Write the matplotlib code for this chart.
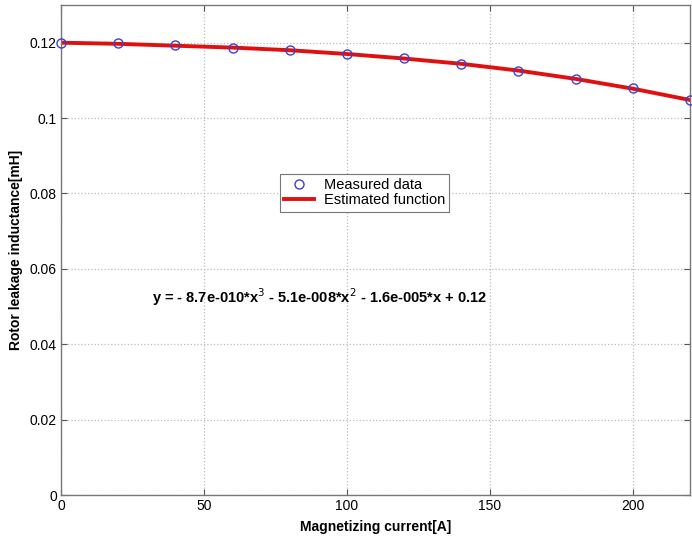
import matplotlib
matplotlib.use("Agg")
import matplotlib.pyplot as plt

plt.rcParams['font.family'] = ['Liberation Sans', 'DejaVu Sans']

current = [0, 20, 40, 60, 80, 100, 120, 140, 160, 180, 200, 220]
measured = [0.1200, 0.1198, 0.1193, 0.1187, 0.1180, 0.1171, 0.1159, 0.1144, 0.1126, 0.1104, 0.1079, 0.1048]
estimated = [0.1200, 0.1197, 0.1192, 0.1187, 0.1180, 0.1170, 0.1158, 0.1144, 0.1126, 0.1104, 0.1078, 0.1048]
equation = r"y = - 8.7e-010*x$^{3}$ - 5.1e-008*x$^{2}$ - 1.6e-005*x + 0.12"

fig = plt.figure(figsize=(6.92, 5.37), dpi=100)
ax = fig.add_axes([0.0882, 0.0782, 0.9088, 0.9125])

ax.plot(current, measured, 'o', mfc='none', mec='#4040c8', ms=6.5, mew=1.0,
        label='Measured data', clip_on=False, zorder=3)
ax.plot(current, estimated, '-', color='#e01010', lw=2.8,
        label='Estimated function', zorder=2)

ax.set_xlim(0, 220)
ax.set_ylim(0, 0.13)
ax.set_xticks([0, 50, 100, 150, 200])
ax.set_yticks([0, 0.02, 0.04, 0.06, 0.08, 0.1, 0.12])
ax.set_yticklabels(['0', '0.02', '0.04', '0.06', '0.08', '0.1', '0.12'])
ax.tick_params(direction='in', top=True, right=True, labelsize=10, length=4,
               color='#555555', pad=3)
ax.grid(True, linestyle=':', color='#bbbbbb', lw=0.9)
for s in ax.spines.values():
    s.set_color('#777777')
    s.set_linewidth(1.0)

ax.set_xlabel('Magnetizing current[A]', fontsize=10, fontweight='bold', labelpad=5)
ax.set_ylabel('Rotor leakage inductance[mH]', fontsize=10, fontweight='bold', labelpad=5)

ax.text(0.145, 0.404, equation, transform=ax.transAxes, fontsize=10.5,
        fontweight='bold', va='center', ha='left')

leg = ax.legend(loc='center', bbox_to_anchor=(0.483, 0.617), fontsize=10.5,
                frameon=True, fancybox=False, framealpha=1, edgecolor='#777777',
                handlelength=2.0, borderpad=0.3, labelspacing=0.1, handletextpad=0.7)
leg.get_frame().set_linewidth(0.8)

fig.savefig('out.png', dpi=100)
